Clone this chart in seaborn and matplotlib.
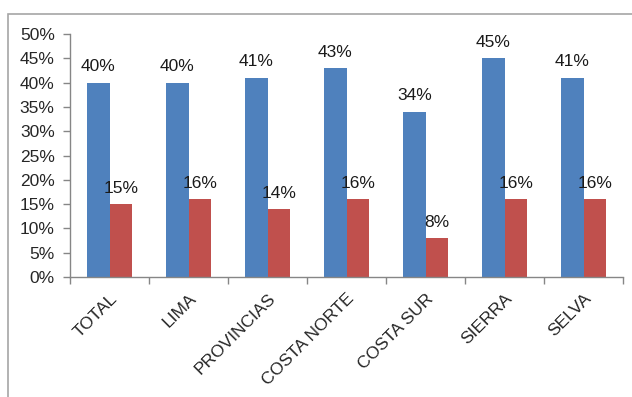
import pandas as pd
import seaborn as sns
import matplotlib.pyplot as plt
from matplotlib.patches import Rectangle
from matplotlib.ticker import FixedLocator, PercentFormatter

categorias = ['TOTAL', 'LIMA', 'PROVINCIAS', 'COSTA NORTE', 'COSTA SUR', 'SIERRA', 'SELVA']
serie_1 = [0.40, 0.40, 0.41, 0.43, 0.34, 0.45, 0.41]
serie_2 = [0.15, 0.16, 0.14, 0.16, 0.08, 0.16, 0.16]
colores = ['#4F81BD', '#C0504D']

df = pd.DataFrame({
    'categoria': categorias * 2,
    'valor': serie_1 + serie_2,
    'serie': ['A'] * len(categorias) + ['B'] * len(categorias),
})

sns.set_style('white')
plt.rcParams['font.family'] = ['Liberation Sans', 'DejaVu Sans']
fs = 12.5

fig = plt.figure(figsize=(6.32, 3.97), dpi=100)
ax = fig.add_axes([70 / 632, 1 - 277 / 397, 553 / 632, 243 / 397])

sns.barplot(data=df, x='categoria', y='valor', hue='serie', palette=colores,
            width=0.57, saturation=1, linewidth=0, ax=ax, legend=False)

for cont in ax.containers:
    ax.bar_label(cont, labels=[f'{v * 100:.0f}%' for v in cont.datavalues],
                 padding=6, fontsize=fs, color='#1a1a1a')

ax.set_ylim(0, 0.5)
ax.set_xlim(-0.5, len(categorias) - 0.5)
ax.set_yticks([i * 0.05 for i in range(11)])
ax.yaxis.set_major_formatter(PercentFormatter(1.0, decimals=0))
ax.set_xlabel('')
ax.set_ylabel('')

# marcas en los limites de cada categoria, etiquetas al centro
ax.xaxis.set_minor_locator(FixedLocator([i - 0.5 for i in range(len(categorias) + 1)]))
ax.tick_params(axis='both', which='both', bottom=True, left=True)
ax.tick_params(axis='x', which='major', length=0, labelsize=fs, pad=10)
ax.tick_params(axis='x', which='minor', length=5, width=1, color='#868686', direction='out')
ax.tick_params(axis='y', length=5, width=1, color='#868686', direction='out', labelsize=fs, pad=6)
plt.setp(ax.get_xticklabels(), rotation=45, ha='right', rotation_mode='anchor')

for s in ['top', 'right']:
    ax.spines[s].set_visible(False)
for s in ['left', 'bottom']:
    ax.spines[s].set_color('#868686')
    ax.spines[s].set_linewidth(1)

# marco del grafico
fig.patches.append(Rectangle((8 / 632, -0.1), 1.2, 1.1 - 14 / 397, transform=fig.transFigure,
                             fill=False, edgecolor='#A6A6A6', linewidth=1.2))

fig.savefig('out.png', dpi=100)
